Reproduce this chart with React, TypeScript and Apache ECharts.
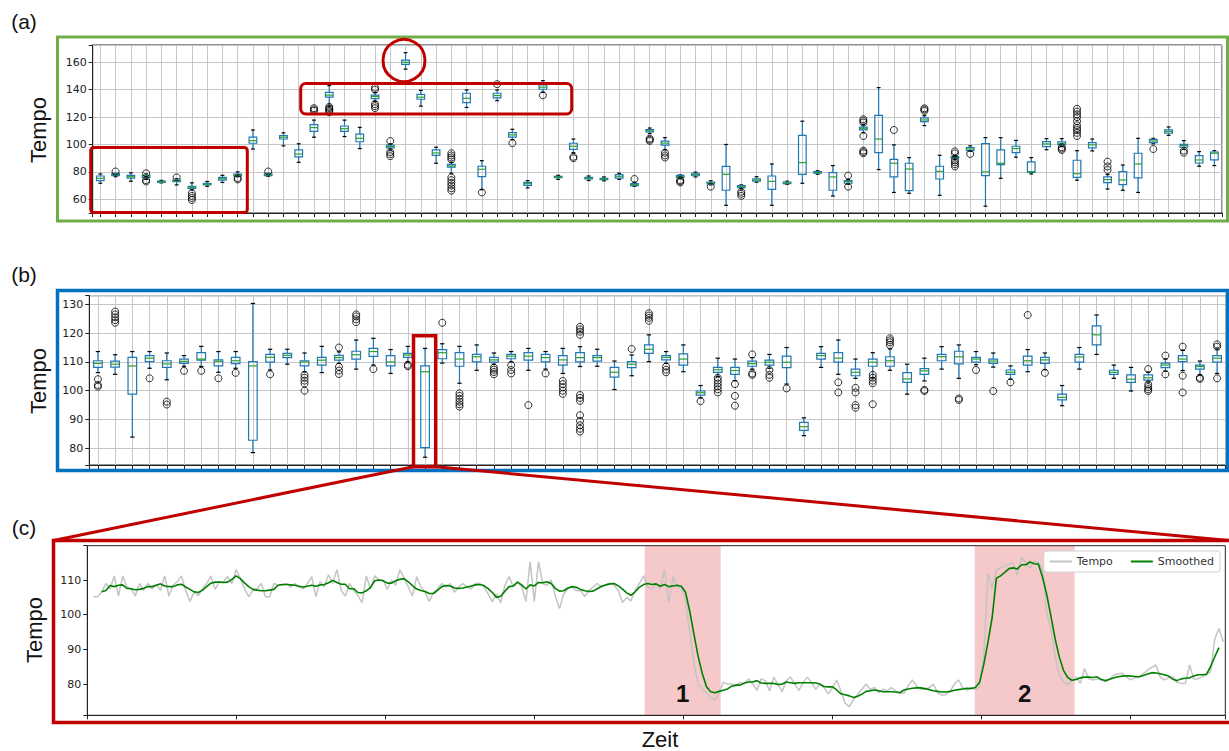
import React, { useEffect, useRef } from "react";
import * as echarts from "echarts";

// ---------------- Panel (a): boxplots [lowWhisker, Q1, median, Q3, highWhisker]
const boxesA: number[][] = [
  [71.7, 73.6, 75.3, 77, 78.5], [76.5, 77.3, 78, 78.7, 79], [73.2, 75.5, 76.5, 77.5, 79.3], [74.5, 76, 77, 77.5, 78.5],
  [72, 72.3, 72.8, 73.2, 73.8], [70.5, 72.8, 73.4, 74, 75], [66.8, 68, 68.8, 69.5, 72], [69.5, 70.5, 71, 71.6, 73],
  [72.3, 74, 75, 76, 77.5], [76.5, 77, 77.5, 78.3, 80], [96.7, 100.9, 102.8, 105.3, 110.6], [76.8, 77.3, 77.8, 78.5, 79],
  [99, 104, 105.3, 106.5, 108.5], [87, 91, 93, 96, 100.5], [105.3, 109.5, 112.3, 114.5, 117.8], [128, 134.5, 136, 138, 143],
  [105.8, 109.5, 111.5, 113.5, 117.8], [97, 102, 104.5, 107.5, 112.5], [131.5, 133.5, 135, 136, 138], [96, 97.5, 98.5, 99.5, 100.5],
  [155, 158.5, 160, 161.5, 167], [128, 133, 134.5, 136.5, 139.5], [86.3, 92, 93.8, 96, 98], [79, 83.5, 84.3, 85.5, 87],
  [127, 130.6, 133.7, 137.4, 139.8], [67, 76.5, 81.9, 84.1, 88.2], [132, 134, 135.7, 137.4, 139.8], [103.5, 105.3, 107, 108.7, 111.1],
  [68.3, 70.2, 71.4, 72.4, 73.6], [138, 140.3, 141.8, 143.5, 146.6], [74.5, 75.8, 76.3, 76.8, 77.5], [94, 96.5, 98.7, 100.9, 104],
  [73.7, 74.8, 75.3, 76, 77], [73.5, 74.3, 74.8, 75.3, 76.3], [74.5, 75.5, 76.8, 78, 79], [69.5, 70, 70.7, 71.5, 72.5],
  [108, 109.2, 110, 110.8, 112], [96, 99.5, 101, 102.5, 105], [75.5, 76, 76.5, 77.5, 77.8], [76.3, 77.2, 78, 79, 79.8],
  [70.5, 71.2, 71.7, 72.5, 73.5], [55.6, 66.6, 78.2, 84, 100], [67.5, 68.5, 69.2, 70, 70.5], [72.5, 73.3, 74.1, 75, 76.5],
  [55.6, 67.3, 73.1, 77, 85.8], [71, 71.5, 71.9, 72.5, 73.2], [71.7, 78.2, 86.8, 106.7, 117], [78.3, 79, 79.5, 80.2, 80.8],
  [62.4, 66.6, 76.3, 79.5, 84.6], [71, 71.7, 72.9, 73.6, 74.5], [108.5, 110.6, 111.8, 112.6, 114.5], [81.7, 94, 104, 121.3, 141.5],
  [65, 76.3, 86.3, 89.2, 99.7], [64.4, 66.3, 82.1, 86.3, 90.4], [113.8, 116.7, 117.9, 119.4, 121], [62.9, 74.8, 80.4, 84.1, 92.1],
  [89, 90, 90.6, 91.1, 92], [95, 95.5, 96.7, 97.7, 99], [55, 77.3, 80, 100.6, 105], [75.3, 85.3, 86.3, 96, 105],
  [90.7, 94, 97, 98.7, 103], [78.5, 79.7, 80.2, 87.3, 90.4], [96.2, 98.4, 100.4, 102.1, 104.3], [98.5, 99.9, 100.5, 101.9, 104.3],
  [73.9, 76, 78.7, 88.5, 95.5], [95.3, 97.5, 99.7, 101.4, 104], [67.5, 72.2, 74.4, 76.3, 78], [66.6, 70.7, 74.1, 80.2, 85],
  [65, 75.6, 85.8, 93.6, 104.5], [100.5, 101.4, 102.6, 103.8, 104.5], [106.7, 108.2, 109.4, 110.6, 112.8], [96.5, 98, 99.2, 100.1, 102.8],
  [84.1, 86.5, 88.7, 91.9, 94.8], [84.6, 88.7, 93.6, 94.5, 95.5],
];
const outliersA: number[][] = [
  [], [80.3], [], [73, 74, 79], [], [76], [59.5, 61, 62.5, 64.5], [], [], [74.5, 75.5], [], [80.3],
  [], [], [124.5, 125.5, 126.5], [123.5, 124.5, 125.5, 126.5, 127.5], [], [], [126.5, 128, 129.5, 140, 141.5], [91.5, 93, 94.5, 102.5],
  [], [], [], [66.3, 68, 70, 72, 74, 76, 89, 90.5, 92, 93.6], [], [65], [144], [101], [], [135.9], [], [90, 91],
  [], [], [], [74.8], [102.6, 103.5, 104.3], [90.5, 92, 94], [72.3, 73.2, 74], [], [69.2], [], [62.5, 64, 65.5], [],
  [], [], [], [], [], [69.2, 77.3], [93.6, 94.5, 95.5, 106.2, 116, 117.2, 118.4], [], [110.6], [], [124.5, 125.5, 126.4], [],
  [84, 85.5, 87, 88.5, 93.5, 95], [93.1], [], [], [], [], [], [96, 97, 98],
  [106.2, 108.5, 110.5, 112, 114, 117, 120, 122, 124, 126], [], [81.4, 84, 87.5], [], [], [96.7], [], [94, 95.5], [], [],
];

// ---------------- Panel (b): boxplots
const boxesB: number[][] = [
  [106.3, 108.1, 109.5, 110.4, 113.6], [105.7, 108.2, 109.2, 110.3, 112.5], [83.9, 98.8, 108.6, 111.6, 113.6], [107.8, 110.1, 111.3, 112.2, 113.6],
  [103.8, 108.1, 109.3, 110.4, 113.1], [108.5, 109.5, 110.2, 111, 112.2], [108.4, 110.6, 111, 113.2, 115.4], [106.4, 108.6, 110.2, 110.7, 113.6],
  [107.8, 109.4, 110.4, 111.6, 113.6], [78.5, 82.8, 108.6, 110.1, 130.3], [107.2, 109.9, 111.6, 112.6, 114.4], [109.2, 111.5, 112.3, 113, 114.4],
  [106.5, 108.6, 110, 110.4, 113.1], [106.3, 108.9, 110.6, 111.6, 115.4], [109.5, 110.6, 111.5, 112.3, 113.5], [107.5, 111, 112.5, 113.7, 117.6],
  [108.9, 111.9, 113.6, 114.7, 118.2], [106, 108.6, 110, 112.2, 114.3], [110, 111.6, 112.4, 113, 115.4], [76.9, 80.2, 106.6, 108.6, 114.7],
  [109.6, 111.1, 113.2, 114.3, 116.3], [102.6, 108.5, 111, 113.2, 115.4], [107.1, 110, 111.8, 112.6, 115.9], [109.2, 109.9, 110.7, 111.6, 113.1],
  [110, 111.1, 112, 112.6, 113.6], [107.1, 110.6, 112, 113.2, 114.7], [107.5, 110, 111.5, 112.6, 113.6], [106, 108.9, 110.7, 112.2, 114.7],
  [108.4, 110, 111.5, 113.2, 115.3], [108.5, 110.3, 111.5, 112.2, 114.4], [100.4, 104.7, 106.4, 108.1, 110.3], [105.2, 108, 109.2, 110.1, 112.4],
  [110.1, 113, 114.4, 115.9, 119.4], [109.5, 110.7, 111.6, 112.2, 113.6], [106.6, 108.9, 111, 112.8, 115.9], [97.5, 98.5, 99.3, 99.9, 101.8],
  [105, 106.4, 107.3, 108.1, 111.3], [103.5, 105.7, 107, 108.1, 111], [107.5, 108.5, 109.4, 110.3, 111.5], [107.8, 108.9, 109.9, 110.6, 112.6],
  [102.3, 108, 109.9, 112, 115], [84.4, 86.2, 87.5, 89, 90.6], [108.1, 111, 112.2, 113, 115.3], [105.7, 109.9, 111.3, 113.2, 117.6],
  [104.3, 105.2, 106.4, 107.5, 111], [104.5, 108.5, 109.9, 111, 113.2], [107.1, 108.5, 110.4, 111.8, 114.5], [98.8, 102.9, 104.1, 106.3, 109.2],
  [103.4, 105.7, 106.9, 107.7, 111.3], [107.5, 110.4, 111.8, 112.6, 115.3], [104.3, 109.3, 111.8, 113.7, 115.9], [109, 109.9, 111, 111.6, 113.6],
  [108.2, 109.5, 110.3, 111, 113.1], [104, 105.7, 106.4, 107.2, 108.6], [106.6, 108.9, 110.4, 112, 114.3], [107.3, 109.5, 110.7, 111.6, 113.1],
  [94.8, 96.8, 97.7, 98.8, 101.8], [107.5, 109.9, 111.7, 112.6, 115], [112.6, 115.9, 119.4, 122.5, 126.3], [104.3, 105.7, 106.4, 107.1, 108.9],
  [99.9, 102.9, 104, 105.5, 108.1], [103, 103.7, 104.5, 105.5, 106.5], [106.8, 108, 108.9, 109.6, 111], [107, 110.1, 111, 112.2, 114],
  [105.5, 107.5, 108.4, 108.9, 110.3], [106, 109.9, 111.3, 112.2, 114.5],
];
const outliersB: number[][] = [
  [101.4, 102, 104], [123.6, 124.5, 125.5, 126.5, 127.5], [], [104.3], [95.2, 96.2], [106.9], [106.9], [104.3], [106.2], [], [105.7], [],
  [100, 102.5, 103.5, 104.5, 105.5], [], [105.8, 107, 108.3, 115], [123.8, 124.8, 125.8, 126.5], [107.5], [], [108.5, 109], [], [123.6],
  [94.5, 95.3, 96.2, 97.2, 98.2, 99.1], [], [105.7, 106.5, 107.3, 108], [106, 107.2, 108.9], [95], [106], [98.9, 100, 101.2, 102.3, 103.4],
  [85.8, 86.8, 88, 89.5, 91.5, 96.5, 97.5, 98.5, 119.4, 120.5, 121.3, 122.2], [], [], [114.5], [124.3, 125.3, 126.1, 126.9],
  [106.4, 107.3, 108.4], [], [96.4], [99.4, 100.5, 101.5, 102.5, 103.5, 104.5], [94.8, 98.2, 102.3], [105.5, 106, 112.6],
  [104.5, 105.5, 107.2], [100.8], [], [], [99.4, 102.9], [94.1, 95, 99.4, 101], [95.3, 102.6, 103.5, 104.5, 105.5],
  [115.9, 116.8, 117.5, 118.2], [], [99.9, 100.3], [], [96.8, 97.3], [107.2], [99.9], [102.9], [126.3], [106.2], [], [], [], [], [],
  [99.9, 100.5, 101.3, 102.2, 107.5], [105.7, 112.2], [99.4, 105.2, 115.3], [104.1, 104.5], [104.3, 115.3, 116.1],
];

// ---------------- Panel (c): tempo over time
const T0 = 2;
const DT = 1.41;
const tempoValues: number[] = [
  105.2, 105.2, 106.5, 109, 107.5, 111.2, 105.4, 111.2, 108, 107.5,
  105.4, 109, 107, 109, 107.5, 108.8, 107, 111.2, 105.4, 108.5,
  109.5, 111.2, 107, 103.8, 106.5, 105.5, 107.5, 109, 111.2, 107.3,
  109.5, 109.5, 111, 109, 113, 110.5, 107.5, 105.2, 107, 107.5,
  109, 105.2, 105.2, 109, 108.5, 108.5, 109, 108, 109, 108,
  107.5, 109, 111, 105.2, 109.5, 108, 111.5, 109, 113, 107,
  105.4, 109, 107, 105.5, 103.5, 111.2, 107.5, 111.2, 110, 110,
  107.3, 110, 108.5, 113, 110.5, 108, 105.4, 111, 108, 106.5,
  103.8, 106.5, 107.5, 109, 108, 109, 106.5, 108, 109, 108,
  107.5, 109, 109, 108, 106, 103.8, 106, 103.5, 108.5, 111,
  108, 109.5, 108, 103.8, 115.3, 103.8, 115.3, 109, 108.5, 110,
  105.5, 101.8, 106, 107.5, 108, 107, 107, 105.2, 107, 108,
  109, 108, 108.5, 109, 108.5, 107, 103.5, 105, 104, 107,
  109, 111.2, 108, 107.5, 108.5, 107.5, 113, 103.5, 111, 108,
  108, 104, 95, 86, 80, 78.5, 77.5, 76, 75.4, 77.5,
  80.5, 80, 80, 79.5, 80.5, 80, 81.5, 80, 78.2, 81.5,
  81, 78, 82, 80, 77.8, 81, 82, 80, 78.2, 80.5,
  82, 80.5, 78.5, 80, 79, 77.2, 79, 81.2, 78, 74.5,
  73.5, 75.5, 77, 78.5, 80, 78.5, 79, 77.5, 78.5, 78,
  79, 78, 77.5, 77.3, 79.5, 81.2, 79.5, 78.5, 78.5, 79,
  80, 77.5, 76.8, 77, 78, 80, 81.2, 79, 78.3, 79,
  78.5, 79.2, 88, 112, 107.5, 112.9, 113.5, 114, 114.5, 115,
  111.4, 116.5, 115, 113.4, 115.3, 115, 113, 100.5, 95.6, 88,
  82.5, 80.7, 79.7, 81, 82, 80.2, 84.5, 81.5, 81.2, 81.5,
  81.2, 80.7, 81.5, 82.6, 83, 83.1, 82, 81.2, 81.8, 82.1,
  83, 84, 84.8, 85.5, 82, 81.2, 81.8, 82.1, 80.5, 80.2,
  80.2, 85.5, 81.5, 81.5, 82.1, 82.8, 83.5, 93, 96, 92.2,
];
const smoothedValues: (number | null)[] = [
  null, null, 106.6, 107, 108.4, 108.1, 108.5, 108.6, 107.6, 107.5,
  107.2, 107.3, 107.6, 108.1, 108.1, 108.5, 108.9, 108.3, 108.1, 108.1,
  108.6, 108.8, 108, 107.3, 106.6, 106.4, 107.1, 108.1, 109.1, 109.4,
  109.4, 109.3, 109.4, 110.2, 111.2, 110.4, 109.2, 108.1, 107.3, 107.1,
  106.9, 106.9, 107.1, 107.3, 108.5, 108.7, 108.7, 108.6, 108.5, 108.2,
  108, 108.2, 108.5, 108.2, 108.6, 108.7, 109.2, 109.9, 109.3, 108.8,
  108.8, 107.5, 107.5, 106.4, 106.3, 106.9, 107.9, 109.8, 110, 109.8,
  109.1, 109.1, 109.8, 110.2, 110.4, 109.5, 108.4, 107.4, 107, 106.7,
  106.1, 106.1, 107.1, 108.1, 108.4, 108.3, 107.7, 107.6, 107.7, 108,
  108.3, 108.6, 108.7, 108.4, 107.5, 106.4, 105, 105.3, 106.8, 108.1,
  108.3, 109.4, 108.6, 107.4, 108.6, 108.3, 109.3, 109.2, 109.5, 109,
  107.6, 106.8, 106.9, 107.7, 108.1, 107.9, 107.3, 106.9, 106.7, 106.8,
  107.5, 108.2, 108.6, 108.9, 109, 108.3, 107.4, 106.3, 105.6, 106.6,
  107.9, 108.7, 109, 108.7, 108.9, 108.2, 108.7, 108.1, 108.3, 108.5,
  108.2, 106.5, 101, 94.4, 88, 83, 79.2, 77.8, 77.5, 77.9,
  78.2, 78.6, 79.4, 79.7, 79.7, 80.3, 80.6, 80.6, 81, 80.3,
  80.2, 80.2, 80.2, 79.9, 80, 80.6, 80.4, 80.2, 80.4, 80.4,
  80.4, 80.4, 80.3, 80, 79.3, 79.2, 79.2, 78.3, 77.2, 76.9,
  76.6, 76.1, 76.5, 77.1, 77.9, 78.1, 78.3, 78.1, 77.8, 77.8,
  77.8, 77.7, 77.5, 78.3, 78.6, 78.8, 78.9, 78.9, 78.7, 78.4,
  78.1, 77.9, 77.7, 77.7, 77.9, 78.2, 78.4, 78.6, 78.8, 78.7,
  79, 80.5, 85.6, 92.1, 99.2, 110.5, 111.2, 112.2, 113.3, 113.5,
  113.2, 114.4, 114.4, 115.2, 114.7, 114.6, 110.8, 105.8, 99.5, 93,
  87.7, 83.9, 81.9, 81.1, 81.3, 81.8, 82, 82, 81.9, 82.1,
  81.3, 81, 81.4, 81.8, 82.1, 82.3, 82.4, 82.3, 82.2, 82.1,
  82.5, 82.9, 83.3, 83.2, 83, 82.7, 82.3, 81.4, 81, 81.5,
  81.7, 81.8, 82.3, 82.7, 82.7, 82.8, 85, 87.9, 90.5, null,
];
const zoneRanges: number[][] = [[187.1, 212.6], [297.9, 331.4]];
const zoneLabels = ["1", "2"];

const BLUE = "#1f77b4";
const MEDIAN = "#2ca02c";
const RED = "#C00000";

function renderBox(params: any, api: any) {
  const x = api.value(0);
  const pLo = api.coord([x, api.value(1)]);
  const pQ1 = api.coord([x, api.value(2)]);
  const pMed = api.coord([x, api.value(3)]);
  const pQ3 = api.coord([x, api.value(4)]);
  const pHi = api.coord([x, api.value(5)]);
  const bw = api.size([0.5, 0])[0];
  const half = bw / 2;
  const cap = bw / 4;
  const cx = pLo[0];
  const ws = { stroke: BLUE, lineWidth: 1.2 };
  const cs = { stroke: "#000", lineWidth: 1.2 };
  return {
    type: "group",
    children: [
      { type: "line", shape: { x1: cx, y1: pHi[1], x2: cx, y2: pQ3[1] }, style: ws },
      { type: "line", shape: { x1: cx, y1: pQ1[1], x2: cx, y2: pLo[1] }, style: ws },
      { type: "line", shape: { x1: cx - cap, y1: pHi[1], x2: cx + cap, y2: pHi[1] }, style: cs },
      { type: "line", shape: { x1: cx - cap, y1: pLo[1], x2: cx + cap, y2: pLo[1] }, style: cs },
      {
        type: "rect",
        shape: { x: cx - half, y: pQ3[1], width: bw, height: pQ1[1] - pQ3[1] },
        style: { fill: "none", stroke: BLUE, lineWidth: 1.2 },
      },
      { type: "line", shape: { x1: cx - half, y1: pMed[1], x2: cx + half, y2: pMed[1] }, style: { stroke: MEDIAN, lineWidth: 1.2 } },
    ],
  };
}

const tickFont = { fontSize: 11, color: "#222", fontFamily: "DejaVu Sans" };
const gridLine = { show: true, lineStyle: { color: "#c6c6c6", width: 1 } };
const blackLine = { show: true, lineStyle: { color: "#222", width: 1 } };

function boxX(gridIndex: number, n: number) {
  return {
    gridIndex, type: "value", min: 0.5, max: n + 0.5, minInterval: 1, maxInterval: 1,
    axisLine: blackLine, axisTick: { show: true, length: 4, lineStyle: { color: "#222" } },
    axisLabel: { show: false }, splitLine: gridLine,
  };
}
function valY(gridIndex: number, min: number, max: number, step: number, split: boolean) {
  return {
    gridIndex, type: "value", min, max, minInterval: step, maxInterval: step,
    axisLine: blackLine, axisTick: { show: true, length: 4, lineStyle: { color: "#222" } },
    axisLabel: { ...tickFont, margin: 6, formatter: (v: number) => (Math.abs(v % step) < 1e-6 ? String(v) : "") },
    splitLine: split ? gridLine : { show: false },
  };
}

export default function App() {
  const ref = useRef<HTMLDivElement>(null);
  useEffect(() => {
    if (!ref.current) return;
    const chart = echarts.init(ref.current, null, { renderer: "svg" });
    const dataA = boxesA.map((b, i) => [i + 1, ...b]);
    const dataB = boxesB.map((b, i) => [i + 1, ...b]);
    const outA = outliersA.flatMap((l, i) => l.map((v) => [i + 1, v]));
    const outB = outliersB.flatMap((l, i) => l.map((v) => [i + 1, v]));
    const tempo = tempoValues.map((v, i) => [T0 + i * DT, v]);
    const smooth = smoothedValues.map((v, i) => [T0 + i * DT, v]);
    const outlierStyle = { color: "rgba(0,0,0,0)", borderColor: "#000", borderWidth: 1 };
    const font = "Liberation Sans, Arial, sans-serif";
    const txt = (text: string, x: number, y: number, size: number, rot = 0, weight = "normal") => ({
      type: "text", x, y, rotation: rot, z: 100,
      style: { text, fontSize: size, fontFamily: font, fontWeight: weight, fill: "#111", textAlign: "center", textVerticalAlign: "middle", verticalAlign: "middle" },
    });
    const frame = (x: number, y: number, w: number, h: number, color: string, lw: number, r = 0) => ({
      type: "rect", z: 100, shape: { x, y, width: w, height: h, r }, style: { fill: "none", stroke: color, lineWidth: lw },
    });
    chart.setOption({
      animation: false,
      backgroundColor: "#fff",
      grid: [
        { left: 92.7, top: 45, width: 1129.3, height: 168, show: true, borderColor: "#222", borderWidth: 1, backgroundColor: "transparent" },
        { left: 89.3, top: 295.7, width: 1136.4, height: 169.3, show: true, borderColor: "#222", borderWidth: 1, backgroundColor: "transparent" },
        { left: 87.3, top: 545.7, width: 1138, height: 169.6, show: true, borderColor: "#222", borderWidth: 1, backgroundColor: "transparent" },
      ],
      xAxis: [
        boxX(0, boxesA.length),
        boxX(1, boxesB.length),
        {
          gridIndex: 2, type: "value", min: 0, max: 382, interval: 50,
          axisLine: blackLine, axisTick: { show: true, length: 4, lineStyle: { color: "#222" } },
          axisLabel: { show: false }, splitLine: { show: false },
        },
      ],
      yAxis: [valY(0, 50, 172.6, 20, true), valY(1, 74.2, 133, 10, true), valY(2, 71, 119.9, 10, false)],
      legend: {
        data: ["Tempo", "Smoothed"], right: 9, top: 551, orient: "horizontal", padding: [5, 6], itemGap: 18, itemWidth: 22, itemHeight: 2,
        icon: "rect",
        textStyle: { fontSize: 11, fontFamily: "DejaVu Sans", color: "#333" },
        borderColor: "#d0d0d0", borderWidth: 1, borderRadius: 3, backgroundColor: "#fff", selectedMode: false,
      },
      series: [
        { type: "custom", xAxisIndex: 0, yAxisIndex: 0, renderItem: renderBox, data: dataA, silent: true, z: 3 },
        { type: "scatter", xAxisIndex: 0, yAxisIndex: 0, data: outA, symbol: "circle", symbolSize: 7, itemStyle: outlierStyle, silent: true, z: 4 },
        { type: "custom", xAxisIndex: 1, yAxisIndex: 1, renderItem: renderBox, data: dataB, silent: true, z: 3 },
        { type: "scatter", xAxisIndex: 1, yAxisIndex: 1, data: outB, symbol: "circle", symbolSize: 7, itemStyle: outlierStyle, silent: true, z: 4 },
        {
          type: "line", xAxisIndex: 2, yAxisIndex: 2, data: [], silent: true, z: 1,
          markArea: {
            silent: true,
            itemStyle: { color: "rgba(214,39,40,0.25)" },
            label: { show: true, position: "insideBottom", distance: 10, formatter: "{b}", fontSize: 24, fontWeight: "bold", fontFamily: font, color: "#111" },
            data: zoneRanges.map((r, i) => [{ name: zoneLabels[i], xAxis: r[0] }, { xAxis: r[1] }]),
          },
        },
        {
          name: "Tempo", type: "line", xAxisIndex: 2, yAxisIndex: 2, data: tempo, symbol: "none", showSymbol: false,
          lineStyle: { color: "#c4c4c4", width: 1.5 }, itemStyle: { color: "#c4c4c4" }, silent: true, z: 3,
        },
        {
          name: "Smoothed", type: "line", xAxisIndex: 2, yAxisIndex: 2, data: smooth, symbol: "none", showSymbol: false, connectNulls: false,
          lineStyle: { color: "#008000", width: 1.6 }, itemStyle: { color: "#008000" }, silent: true, z: 4,
        },
      ],
      graphic: [
        txt("(a)", 24, 21, 21),
        txt("(b)", 24, 274, 21),
        txt("(c)", 24, 527, 21),
        txt("Tempo", 38, 130, 22, Math.PI / 2),
        txt("Tempo", 38, 381, 22, Math.PI / 2),
        txt("Tempo", 34, 630, 22, Math.PI / 2),
        txt("Zeit", 660, 739, 22),
        frame(57.5, 37, 1170, 184, "#70AD47", 3),
        frame(57.5, 290.5, 1170, 180, "#0070C0", 3.5),
        frame(53.5, 540.5, 1180, 182, RED, 3.5),
        frame(90.7, 147.5, 156.6, 65, RED, 3, 3),
        frame(300.7, 83.5, 271, 30.5, RED, 3, 5),
        { type: "circle", z: 100, shape: { cx: 404, cy: 60.5, r: 21 }, style: { fill: "none", stroke: RED, lineWidth: 3 } },
        frame(413.5, 335.7, 22.2, 131, RED, 3.5),
        { type: "line", z: 100, shape: { x1: 413.5, y1: 466.7, x2: 53.5, y2: 540.5 }, style: { stroke: RED, lineWidth: 3 } },
        { type: "line", z: 100, shape: { x1: 435.7, y1: 466.7, x2: 1229, y2: 540.5 }, style: { stroke: RED, lineWidth: 3 } },
      ],
    });
    return () => chart.dispose();
  }, []);
  return <div ref={ref} style={{ position: "fixed", left: 0, top: 0, width: 1229, height: 751, background: "#fff" }} />;
}
